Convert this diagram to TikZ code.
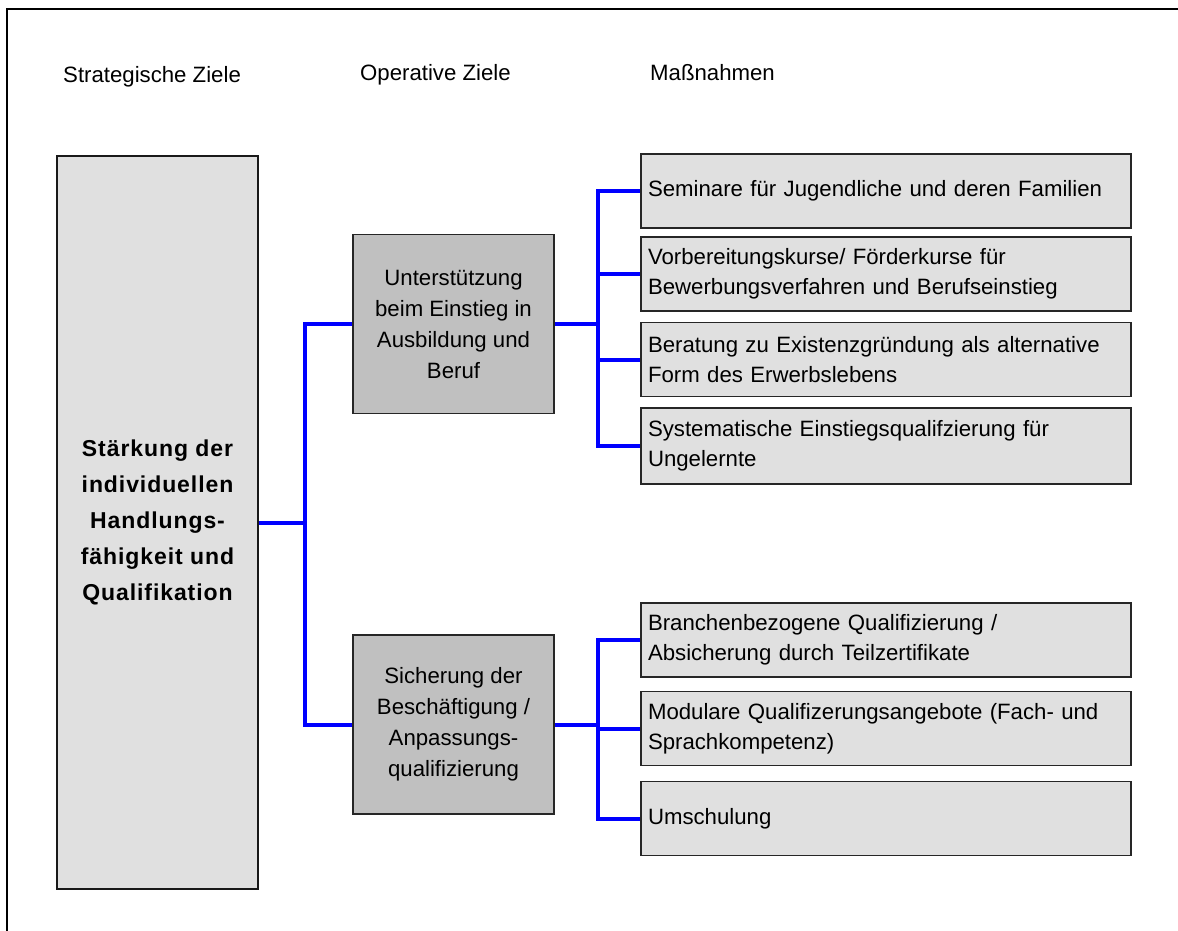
\documentclass[tikz,border=0pt]{standalone}
\usepackage{fontspec}
\setmainfont{Liberation Sans}
\definecolor{lightbox}{HTML}{E0E0E0}
\definecolor{midbox}{HTML}{C0C0C0}
\definecolor{linkblue}{HTML}{0000FF}
\begin{document}
\begin{tikzpicture}[x=1pt,y=-1pt,
  every node/.style={font=\fontsize{22.2}{30}\selectfont},
  header/.style={anchor=base west,inner sep=0pt},
  goalbox/.style={draw=black!90,line width=1.5pt,fill=lightbox,minimum width=201pt,
    minimum height=733pt,align=center,inner sep=0pt,
    font=\bfseries\addfontfeatures{LetterSpace=4}\fontsize{23}{36}\selectfont},
  opbox/.style={draw=black!85,line width=1.5pt,fill=midbox,minimum width=201pt,
    minimum height=179pt,align=center,inner sep=0pt,
    font=\fontsize{22.2}{31}\selectfont},
  measure/.style={draw=black!85,line width=1.5pt,fill=lightbox,text width=476pt,
    inner xsep=7pt,inner ysep=0pt,minimum height=74pt,align=left},
  link/.style={draw=linkblue,line width=4pt}]
\useasboundingbox (0,0) rectangle (1178,930);
% outer frame (top and left edges)
\draw[line width=2pt] (7,940) -- (7,9) -- (1190,9);

% column headings
\node[header] (h1) at (63,82) {Strategische Ziele};
\node[header] (h2) at (360,80) {Operative Ziele};
\node[header] (h3) at (650,80) {Maßnahmen};

% strategic goal
\node[goalbox] (goal) at (157.5,522.5) {Stärkung der\\individuellen\\Handlungs-\\fähigkeit und\\Qualifikation};

% operative goals
\node[opbox] (op1) at (453.5,324) {Unterstützung\\beim Einstieg in\\Ausbildung und\\Beruf};
\node[opbox] (op2) at (453.5,724.5) {Sicherung der\\Beschäftigung /\\Anpassungs-\\qualifizierung};

% measures
\node[measure] (m1) at (886,191) {Seminare für Jugendliche und deren Familien};
\node[measure] (m2) at (886,274) {Vorbereitungskurse/ Förderkurse für\\Bewerbungsverfahren und Berufseinstieg};
\node[measure] (m3) at (886,359.5) {Beratung zu Existenzgründung als alternative\\Form des Erwerbslebens};
\node[measure,minimum height=76pt] (m4) at (886,446) {Systematische Einstiegsqualifzierung für\\Ungelernte};
\node[measure] (m5) at (886,640) {Branchenbezogene Qualifizierung /\\Absicherung durch Teilzertifikate};
\node[measure] (m6) at (886,728.5) {Modulare Qualifizerungsangebote (Fach- und\\Sprachkompetenz)};
\node[measure] (m7) at (886,818.5) {Umschulung};

% branching points
\coordinate (b0) at (305,522.5);
\coordinate (b1) at (598,324);
\coordinate (b2) at (598,724.5);

% connectors: strategic goal to operative goals
\draw[link] (goal.east) -- (b0);
\draw[link] (op1.west) -| (b0) |- (op2.west);

% connectors: first operative goal to its measures
\draw[link] (op1.east) -- (b1);
\draw[link] (m1.west) -| (b1) |- (m4.west);
\draw[link] (b1 |- m2.west) -- (m2.west);
\draw[link] (b1 |- m3.west) -- (m3.west);

% connectors: second operative goal to its measures
\draw[link] (op2.east) -- (b2);
\draw[link] (m5.west) -| (b2) |- (m7.west);
\draw[link] (b2 |- m6.west) -- (m6.west);
\end{tikzpicture}
\end{document}
